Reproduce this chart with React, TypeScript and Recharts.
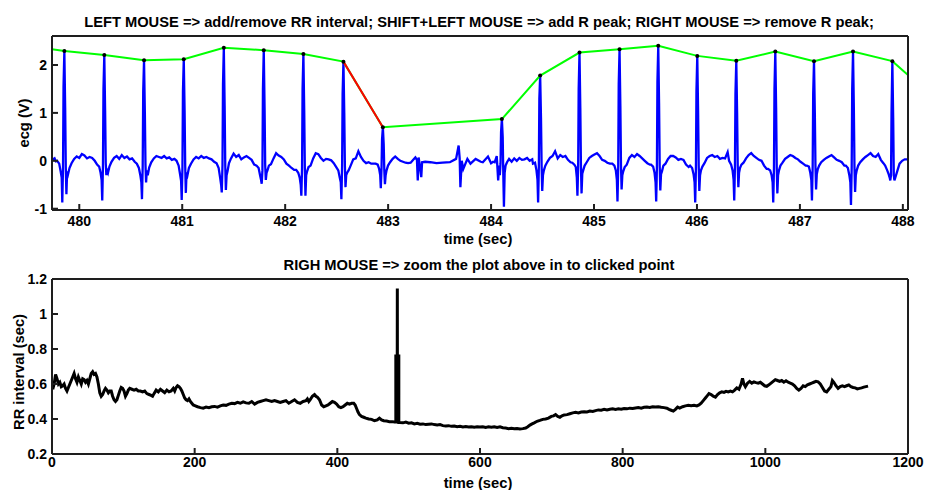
import React from 'react';
import { ComposedChart, Line, XAxis, YAxis } from 'recharts';

// ---------- ECG window (upper panel) ----------

// Detected R peaks: time (s) and amplitude (V)
const rPeakTimes = [
  479.855, 480.243, 480.629, 481.015, 481.404, 481.792, 482.177, 482.566, 482.949,
  484.105, 484.477, 484.859, 485.248, 485.624, 486.003, 486.382, 486.761, 487.137,
  487.516, 487.898,
];
const rPeakValues = [
  2.29, 2.21, 2.1, 2.12, 2.36, 2.31, 2.23, 2.07, 0.7,
  0.87, 1.78, 2.26, 2.33, 2.4, 2.19, 2.09, 2.28, 2.08,
  2.28, 2.08,
];

// Peak envelope values where it crosses the window edges
const envelopeStart = { t: 479.735, v: 2.33 };
const envelopeEnd = { t: 488.05, v: 1.79 };

// The RR interval between these two peaks is flagged
const flaggedPeaks = [7, 8];

// Sample times relative to each R peak (s); index 7 is the peak itself
const beatOffsets = [
  -0.07, -0.05, -0.036, -0.026, -0.02, -0.013, -0.008, 0, 0.008, 0.014, 0.02, 0.027,
  0.036, 0.05, 0.07, 0.095, 0.12, 0.145, 0.17, 0.195, 0.22, 0.245, 0.27, 0.295,
];

// ECG samples (V) around each beat; null at the peak (taken from rPeakValues)
const beatSamples: (number | null)[][] = [
  [0.0, -0.06, -0.22, -0.35, -0.87, -0.15, 1.55, null, 1.1, -0.15, -0.7, -0.22, -0.28, -0.15, -0.05, 0.04, 0.09, 0.06, 0.14, 0.11, 0.05, 0.08, 0.06, 0.0],
  [-0.08, -0.12, -0.25, -0.4, -0.83, -0.1, 1.5, null, 1.05, -0.05, -0.3, -0.2, -0.25, -0.12, -0.02, 0.06, 0.1, 0.04, 0.12, 0.06, 0.09, 0.03, 0.05, -0.02],
  [-0.06, -0.15, -0.3, -0.45, -0.8, -0.12, 1.45, null, 1.0, -0.08, -0.45, -0.2, -0.3, -0.14, -0.03, 0.05, 0.1, 0.08, 0.06, 0.1, 0.05, 0.07, 0.02, 0.04],
  [0.0, -0.1, -0.28, -0.42, -0.82, -0.15, 1.45, null, 1.05, -0.12, -0.67, -0.25, -0.3, -0.15, -0.06, 0.03, 0.08, 0.05, 0.1, 0.06, 0.08, 0.05, 0.03, -0.02],
  [-0.05, -0.15, -0.35, -0.5, -0.66, -0.1, 1.6, null, 1.15, -0.1, -0.61, -0.3, -0.22, -0.05, 0.05, 0.15, 0.08, 0.12, 0.03, 0.07, 0.1, 0.06, 0.02, -0.08],
  [-0.1, -0.15, -0.3, -0.4, -0.48, -0.2, 1.5, null, 1.1, -0.1, -0.4, -0.25, -0.2, -0.1, -0.07, 0.05, 0.16, 0.11, 0.08, 0.03, -0.06, -0.1, -0.15, -0.19],
  [-0.19, -0.25, -0.35, -0.5, -0.73, -0.15, 1.5, null, 1.05, -0.15, -0.73, -0.3, -0.22, -0.13, -0.1, 0.05, 0.16, 0.14, 0.06, 0.0, 0.04, 0.03, 0.01, -0.05],
  [-0.13, -0.2, -0.35, -0.45, -0.8, -0.12, 1.4, null, 1.0, -0.1, -0.55, -0.3, -0.25, -0.2, -0.1, 0.03, 0.05, 0.2, 0.08, 0.0, -0.05, -0.03, -0.06, -0.06],
  [-0.06, -0.08, -0.17, -0.3, -0.57, -0.15, 0.45, null, 0.35, -0.2, -0.49, -0.3, -0.2, -0.1, -0.03, 0.04, 0.09, 0.04, 0.0, -0.02, -0.04, -0.05, -0.04, 0.02],
  [-0.03, 0.1, -0.41, -0.1, -0.3, -0.05, 0.6, null, 0.5, -0.3, -0.96, -0.25, -0.1, -0.03, 0.04, -0.02, 0.05, 0.0, 0.06, 0.02, 0.03, 0.06, 0.0, 0.03],
  [-0.06, -0.04, -0.2, -0.4, -0.87, -0.15, 1.3, null, 0.9, -0.1, -0.63, -0.3, -0.2, -0.1, -0.02, 0.06, 0.1, 0.2, 0.05, 0.12, 0.08, 0.1, 0.02, -0.03],
  [-0.04, -0.08, -0.13, -0.35, -0.73, -0.12, 1.5, null, 1.1, -0.1, -0.68, -0.27, -0.2, -0.1, -0.03, 0.06, 0.1, 0.13, 0.16, 0.1, 0.02, 0.0, -0.04, -0.06],
  [-0.06, -0.1, -0.2, -0.4, -0.85, -0.15, 1.6, null, 1.15, -0.1, -0.6, -0.3, -0.22, -0.13, -0.08, 0.06, 0.12, 0.08, 0.14, 0.1, 0.05, 0.0, -0.05, -0.08],
  [-0.08, -0.12, -0.25, -0.45, -0.85, -0.12, 1.65, null, 1.2, -0.1, -0.62, -0.28, -0.22, -0.1, -0.06, 0.04, 0.1, 0.1, 0.07, 0.02, 0.04, 0.02, -0.08, -0.13],
  [-0.1, -0.15, -0.28, -0.45, -0.87, -0.15, 1.45, null, 1.05, -0.1, -0.63, -0.3, -0.2, -0.12, -0.05, 0.06, 0.1, 0.12, 0.08, 0.1, 0.04, 0.06, 0.05, 0.18],
  [0.0, -0.08, -0.2, -0.4, -0.83, -0.12, 1.4, null, 1.0, -0.1, -0.55, -0.25, -0.15, -0.08, -0.04, 0.05, 0.12, 0.16, 0.1, 0.06, 0.02, 0.0, -0.1, -0.17],
  [-0.17, -0.2, -0.3, -0.45, -0.87, -0.15, 1.5, null, 1.1, -0.15, -0.68, -0.3, -0.2, -0.1, -0.04, 0.04, 0.08, 0.12, 0.1, 0.06, 0.03, -0.02, -0.06, -0.1],
  [-0.1, -0.12, -0.25, -0.4, -0.83, -0.12, 1.4, null, 1.0, -0.1, -0.6, -0.28, -0.18, -0.1, -0.03, 0.02, 0.06, 0.09, 0.12, 0.07, 0.02, 0.0, -0.03, -0.1],
  [-0.1, -0.15, -0.3, -0.45, -0.92, -0.15, 1.5, null, 1.1, -0.12, -0.65, -0.3, -0.2, -0.1, -0.03, 0.03, 0.08, 0.12, 0.16, 0.1, 0.08, 0.14, 0.02, -0.05],
  [-0.1, -0.2, -0.28, -0.35, -0.41, -0.3, 1.0, null, 0.9, -0.3, -0.41, -0.36, -0.3, -0.2, -0.06, 0.0, 0.03, 0.03, null, null, null, null, null, null],
];

// ECG samples before the first beat (t, V)
const ecgLeadIn: [number, number][] = [
  [479.735, 0.06], [479.748, 0.03], [479.76, 0.05], [479.772, -0.01],
];

// ECG samples across the stretch with missed beats (t, V)
const ecgGap: [number, number][] = [
  [483.265, 0.07], [483.28, 0.02], [483.288, -0.41], [483.296, 0.07], [483.305, -0.05],
  [483.322, -0.34], [483.33, -0.03], [483.36, -0.02], [483.41, -0.03], [483.47, -0.05],
  [483.53, -0.04], [483.6, -0.03], [483.66, 0.04], [483.685, 0.32], [483.695, 0.05],
  [483.702, -0.55], [483.715, 0.0], [483.73, -0.17], [483.77, 0.04], [483.8, -0.06],
  [483.85, 0.04], [483.9, -0.02], [483.92, -0.03], [483.97, 0.09], [484.0, -0.05],
  [484.02, -0.02],
];

const ecgTicksX = [480, 481, 482, 483, 484, 485, 486, 487, 488];
const ecgTicksY = [-1, 0, 1, 2];

// ---------- RR tachogram (lower panel) ----------

// Beat time (s), RR interval (s)
const rrSeries: [number, number][] = [
  [1, 0.57], [3, 0.6], [5, 0.655], [7, 0.63], [9, 0.6], [11, 0.61], [13, 0.585], [15, 0.59],
  [17, 0.6], [19, 0.575], [21, 0.56], [23, 0.58], [25, 0.6], [27, 0.62], [29, 0.64], [31, 0.66],
  [33, 0.63], [35, 0.61], [37, 0.64], [39, 0.62], [41, 0.6], [43, 0.63], [45, 0.625], [47, 0.61],
  [49, 0.62], [51, 0.6], [53, 0.63], [55, 0.66], [57, 0.67], [59, 0.655], [61, 0.66], [63, 0.64],
  [65, 0.6], [67, 0.55], [69, 0.53], [71, 0.54], [73, 0.56], [75, 0.575], [77, 0.565], [79, 0.55],
  [81, 0.56], [83, 0.56], [85, 0.53], [87, 0.51], [89, 0.5], [91, 0.51], [93, 0.535], [95, 0.56],
  [97, 0.58], [99, 0.575], [101, 0.56], [103, 0.53], [105, 0.545], [107, 0.565], [109, 0.575],
  [112, 0.57], [115, 0.565], [118, 0.57], [121, 0.56], [124, 0.56], [127, 0.555], [130, 0.56],
  [133, 0.545], [136, 0.54], [139, 0.535], [141, 0.53], [143, 0.545], [146, 0.565], [149, 0.555],
  [152, 0.57], [155, 0.56], [158, 0.55], [161, 0.565], [164, 0.555], [167, 0.56], [170, 0.575],
  [172, 0.56], [174, 0.58], [176, 0.59], [178, 0.585], [180, 0.575], [182, 0.56], [184, 0.54],
  [186, 0.52], [188, 0.51], [190, 0.505], [192, 0.515], [194, 0.5], [196, 0.49], [198, 0.48],
  [201, 0.475], [204, 0.47], [208, 0.465], [212, 0.462], [216, 0.468], [220, 0.465], [224, 0.47],
  [228, 0.472], [232, 0.468], [236, 0.475], [240, 0.48], [244, 0.478], [248, 0.485], [252, 0.49],
  [256, 0.488], [260, 0.495], [264, 0.49], [268, 0.498], [272, 0.492], [276, 0.49], [280, 0.5],
  [284, 0.485], [288, 0.495], [292, 0.5], [296, 0.505], [300, 0.51], [304, 0.505], [308, 0.5],
  [312, 0.505], [316, 0.5], [320, 0.495], [324, 0.5], [328, 0.505], [332, 0.49], [336, 0.5],
  [340, 0.51], [344, 0.495], [348, 0.49], [352, 0.5], [356, 0.505], [358, 0.515], [360, 0.5],
  [362, 0.51], [365, 0.53], [368, 0.54], [370, 0.53], [372, 0.525], [375, 0.51], [378, 0.48],
  [381, 0.47], [384, 0.475], [387, 0.48], [390, 0.49], [393, 0.5], [396, 0.495], [399, 0.485],
  [402, 0.47], [405, 0.465], [408, 0.47], [411, 0.48], [414, 0.49], [417, 0.485], [420, 0.49],
  [423, 0.49], [425, 0.48], [427, 0.46], [429, 0.44], [431, 0.425], [434, 0.415], [437, 0.41],
  [440, 0.405], [444, 0.4], [448, 0.398], [452, 0.39], [456, 0.395], [459, 0.405], [462, 0.395],
  [465, 0.39], [469, 0.388], [473, 0.385], [477, 0.385], [480, 0.383],
  [482, 0.383], [482, 0.76], [484, 0.76], [484.1, 1.145], [484.2, 0.76], [486.2, 0.76], [486.2, 0.38],
  [488, 0.38], [492, 0.378], [496, 0.382], [500, 0.376], [504, 0.378], [508, 0.372], [512, 0.375],
  [516, 0.37], [520, 0.372], [524, 0.368], [528, 0.37], [532, 0.372], [536, 0.368], [540, 0.366],
  [544, 0.368], [548, 0.362], [552, 0.36], [556, 0.362], [560, 0.358], [564, 0.36], [568, 0.356],
  [572, 0.358], [576, 0.355], [580, 0.357], [584, 0.354], [588, 0.356], [592, 0.353], [596, 0.355],
  [600, 0.354], [604, 0.356], [608, 0.352], [612, 0.355], [616, 0.353], [620, 0.356], [624, 0.352],
  [628, 0.355], [632, 0.35], [636, 0.348], [640, 0.345], [644, 0.347], [648, 0.344], [652, 0.346],
  [656, 0.343], [660, 0.345], [664, 0.348], [667, 0.356], [670, 0.365], [673, 0.372], [676, 0.378],
  [680, 0.387], [684, 0.392], [688, 0.398], [692, 0.4], [696, 0.405], [700, 0.415], [703, 0.418],
  [706, 0.425], [709, 0.415], [712, 0.41], [715, 0.418], [718, 0.423], [722, 0.425], [726, 0.43],
  [730, 0.435], [734, 0.438], [738, 0.435], [742, 0.44], [746, 0.442], [750, 0.44], [754, 0.445],
  [758, 0.443], [762, 0.448], [766, 0.452], [770, 0.45], [774, 0.455], [778, 0.452], [782, 0.456],
  [786, 0.458], [790, 0.455], [794, 0.458], [798, 0.456], [802, 0.46], [806, 0.458], [810, 0.462],
  [814, 0.46], [818, 0.463], [822, 0.465], [826, 0.462], [830, 0.467], [834, 0.468], [838, 0.466],
  [842, 0.47], [846, 0.468], [850, 0.47], [854, 0.467], [858, 0.465], [862, 0.462], [865, 0.455],
  [868, 0.45], [871, 0.445], [874, 0.455], [877, 0.468], [880, 0.462], [884, 0.47], [888, 0.475],
  [892, 0.478], [896, 0.476], [900, 0.478], [904, 0.475], [907, 0.48], [910, 0.49], [913, 0.505],
  [916, 0.52], [919, 0.535], [921, 0.545], [924, 0.54], [927, 0.53], [930, 0.525], [933, 0.54],
  [936, 0.55], [939, 0.555], [942, 0.552], [945, 0.558], [948, 0.555], [951, 0.56], [954, 0.555],
  [957, 0.565], [960, 0.578], [963, 0.57], [966, 0.6], [968, 0.632], [970, 0.6], [972, 0.585],
  [975, 0.605], [978, 0.615], [981, 0.605], [984, 0.612], [987, 0.608], [990, 0.605], [993, 0.61],
  [996, 0.6], [999, 0.59], [1002, 0.587], [1005, 0.595], [1008, 0.605], [1011, 0.615], [1014, 0.625],
  [1017, 0.62], [1020, 0.615], [1023, 0.62], [1026, 0.61], [1029, 0.618], [1032, 0.61], [1035, 0.605],
  [1038, 0.6], [1041, 0.59], [1044, 0.575], [1047, 0.565], [1050, 0.575], [1053, 0.59], [1056, 0.585],
  [1059, 0.595], [1062, 0.6], [1065, 0.605], [1068, 0.61], [1071, 0.615], [1074, 0.612], [1077, 0.6],
  [1080, 0.58], [1083, 0.56], [1086, 0.555], [1089, 0.57], [1092, 0.585], [1094, 0.62], [1096, 0.61],
  [1099, 0.59], [1102, 0.575], [1105, 0.585], [1108, 0.59], [1111, 0.585], [1114, 0.59], [1117, 0.595],
  [1120, 0.585], [1123, 0.58], [1126, 0.578], [1129, 0.572], [1132, 0.575], [1135, 0.578],
  [1138, 0.582], [1141, 0.585], [1144, 0.588],
];

const rrTicksX = [0, 200, 400, 600, 800, 1000, 1200];
const rrTicksY = [0.2, 0.4, 0.6, 0.8, 1, 1.2];

const topTitle = 'LEFT MOUSE => add/remove RR interval; SHIFT+LEFT MOUSE => add R peak; RIGHT MOUSE => remove R peak;';
const bottomTitle = 'RIGH MOUSE => zoom the plot above in to clicked point';

// ---------- series assembly ----------

type Pt = { t: number; v: number };

const ecgData: Pt[] = (() => {
  const pts: Pt[] = ecgLeadIn.map(([t, v]) => ({ t, v }));
  rPeakTimes.forEach((tr, i) => {
    beatSamples[i].forEach((s, k) => {
      if (beatOffsets[k] === 0) pts.push({ t: tr, v: rPeakValues[i] });
      else if (s !== null) pts.push({ t: +(tr + beatOffsets[k]).toFixed(4), v: s });
    });
  });
  ecgGap.forEach(([t, v]) => pts.push({ t, v }));
  return pts.sort((a, b) => a.t - b.t);
})();

const peakData: Pt[] = rPeakTimes.map((t, i) => ({ t, v: rPeakValues[i] }));
const envelopeData: Pt[] = [envelopeStart, ...peakData, envelopeEnd];
const flaggedData: Pt[] = flaggedPeaks.map((i) => peakData[i]);
const rrData: Pt[] = rrSeries.map(([t, v]) => ({ t, v }));

// ---------- styling ----------

const FONT = "Arial, 'Liberation Sans', Helvetica, sans-serif";
const tickText = { fontSize: 14, fontWeight: 700, fill: '#000', fontFamily: FONT };
const frame = { stroke: '#1e1e1e', strokeWidth: 2 };
const labelStyle: React.CSSProperties = { fontSize: 14.7, fontWeight: 700, fill: '#000', fontFamily: FONT };

export default function App() {
  return (
    <div style={{ position: 'absolute', left: 0, top: 0, width: 925, height: 490, background: '#fff' }}>
      <div style={{ position: 'absolute', left: 0, top: 0 }}>
        <ComposedChart width={925} height={245} margin={{ top: 35, right: 16, bottom: 34, left: 51 }}>
          <XAxis xAxisId="b" type="number" dataKey="t" domain={[479.735, 488.05]} allowDataOverflow
            ticks={ecgTicksX} interval={0} height={1} tickSize={-6} tickMargin={12}
            tick={tickText} axisLine={frame} tickLine={frame} />
          <XAxis xAxisId="t" orientation="top" type="number" dataKey="t" domain={[479.735, 488.05]} allowDataOverflow
            ticks={ecgTicksX} interval={0} height={1} tickSize={-6} tick={false} axisLine={frame} tickLine={frame} />
          <YAxis yAxisId="l" type="number" domain={[-1.027, 2.605]} allowDataOverflow
            ticks={ecgTicksY} interval={0} width={1} tickSize={-6} tickMargin={11}
            tick={tickText} axisLine={frame} tickLine={frame} />
          <YAxis yAxisId="r" orientation="right" type="number" domain={[-1.027, 2.605]} allowDataOverflow
            ticks={ecgTicksY} interval={0} width={1} tickSize={-6} tick={false} axisLine={frame} tickLine={frame} />
          <Line xAxisId="b" yAxisId="l" data={ecgData} dataKey="v" type="linear" stroke="#0000ff"
            strokeWidth={2.3} dot={false} activeDot={false} isAnimationActive={false} />
          <Line xAxisId="b" yAxisId="l" data={envelopeData} dataKey="v" type="linear" stroke="#00ff00"
            strokeWidth={2} dot={false} activeDot={false} isAnimationActive={false} />
          <Line xAxisId="b" yAxisId="l" data={flaggedData} dataKey="v" type="linear" stroke="#ff0000"
            strokeWidth={2} dot={false} activeDot={false} isAnimationActive={false} />
          <Line xAxisId="b" yAxisId="l" data={peakData} dataKey="v" type="linear" stroke="none"
            dot={{ r: 2, fill: '#000', stroke: 'none' }} activeDot={false} isAnimationActive={false} />
        </ComposedChart>
      </div>
      <div style={{ position: 'absolute', left: 0, top: 245 }}>
        <ComposedChart width={925} height={245} margin={{ top: 33, right: 16, bottom: 35, left: 51 }}>
          <XAxis xAxisId="b" type="number" dataKey="t" domain={[0, 1200]} allowDataOverflow
            ticks={rrTicksX} interval={0} height={1} tickSize={-6} tickMargin={9}
            tick={tickText} axisLine={frame} tickLine={frame} />
          <XAxis xAxisId="t" orientation="top" type="number" dataKey="t" domain={[0, 1200]} allowDataOverflow
            ticks={rrTicksX} interval={0} height={1} tickSize={-6} tick={false} axisLine={frame} tickLine={frame} />
          <YAxis yAxisId="l" type="number" domain={[0.2, 1.2]} allowDataOverflow
            ticks={rrTicksY} interval={0} width={1} tickSize={-6} tickMargin={11}
            tick={tickText} axisLine={frame} tickLine={frame} />
          <YAxis yAxisId="r" orientation="right" type="number" domain={[0.2, 1.2]} allowDataOverflow
            ticks={rrTicksY} interval={0} width={1} tickSize={-6} tick={false} axisLine={frame} tickLine={frame} />
          <Line xAxisId="b" yAxisId="l" data={rrData} dataKey="v" type="linear" stroke="#000"
            strokeWidth={3} dot={false} activeDot={false} isAnimationActive={false} />
        </ComposedChart>
      </div>
      <svg width={925} height={490} style={{ position: 'absolute', left: 0, top: 0, pointerEvents: 'none' }}>
        <text x={479} y={26.5} textAnchor="middle" style={labelStyle}>{topTitle}</text>
        <text x={478} y={244} textAnchor="middle" style={labelStyle}>{'time (sec)'}</text>
        <text x={28.5} y={123} textAnchor="middle" transform="rotate(-90 28.5 123)" style={labelStyle}>{'ecg (V)'}</text>
        <text x={479} y={270} textAnchor="middle" style={labelStyle}>{bottomTitle}</text>
        <text x={478} y={488} textAnchor="middle" style={labelStyle}>{'time (sec)'}</text>
        <text x={23.5} y={372} textAnchor="middle" transform="rotate(-90 23.5 372)" style={labelStyle}>{'RR interval (sec)'}</text>
      </svg>
    </div>
  );
}
